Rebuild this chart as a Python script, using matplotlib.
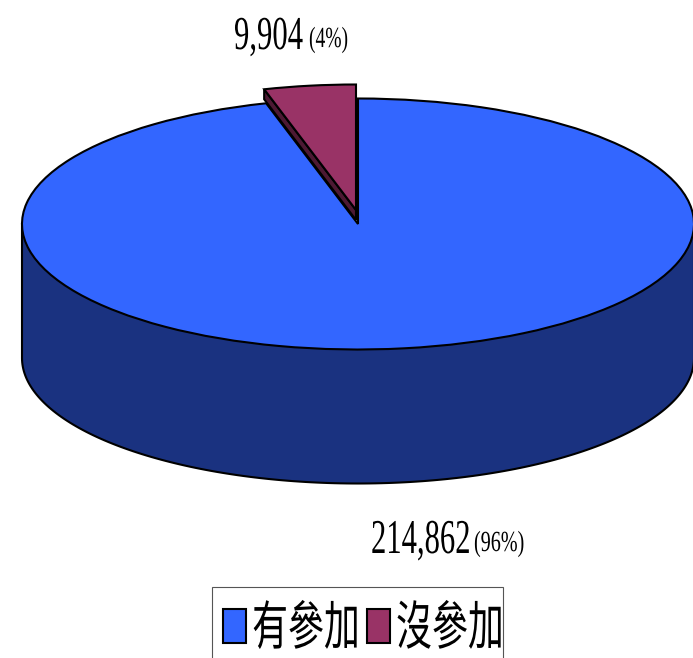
import numpy as np
import matplotlib
matplotlib.use("Agg")
import matplotlib.pyplot as plt
from matplotlib.patches import Wedge, Polygon, Patch, Rectangle
from matplotlib.patheffects import AbstractPathEffect
from matplotlib.transforms import Affine2D

# Survey counts
categories = ["有參加", "沒參加"]
counts = [214862, 9904]
count_labels = ["214,862", "9,904"]
share_labels = ["(96%)", "(4%)"]

BLUE, BLUE_DARK = "#3366FF", "#1A3280"
PLUM, PLUM_DARK = "#993366", "#4D1933"
W, H = 693, 658
CX, CY, RX, RY = 358.0, 224.0, 336.0, 125.5   # top ellipse, in pixels
DEPTH = 134 / RY                               # body height in unit-circle terms
LW = 1.5


class Condense(AbstractPathEffect):
    """Squeezes glyphs horizontally about the text origin."""
    def __init__(self, sx):
        super().__init__()
        self.sx = sx

    def draw_path(self, renderer, gc, tpath, affine, rgbFace=None):
        renderer.draw_path(gc, tpath, Affine2D().scale(self.sx, 1) + affine, rgbFace)


def label(x, y, s, size, sx):
    txt = fig.text(x / W, 1 - y / H, s, fontsize=size, family="Liberation Serif",
                   ha="left", va="baseline", color="black")
    txt.set_path_effects([Condense(sx)])


fig = plt.figure(figsize=(W / 100, H / 100), dpi=100, facecolor="white")
ax = fig.add_axes([0, 0, 1, 1])
# Unit-circle coordinates stretched so the disc reads as a tilted ellipse
ax.set_xlim(-CX / RX, (W - CX) / RX)
ax.set_ylim((CY - H) / RY, CY / RY)
ax.axis("off")

sweep = 360 * counts[1] / sum(counts)
start = 90.0
split = start + sweep

# Cylinder wall below the large slice
t = np.radians(np.linspace(180, 360, 181))
wall = np.column_stack([np.cos(t), np.sin(t) - DEPTH])
wall = np.vstack([wall, [1, 0], [-1, 0]])
ax.add_patch(Polygon(wall, closed=True, fc=BLUE_DARK, ec="black", lw=LW, zorder=1))

# Top face of the large slice
ax.add_patch(Wedge((0, 0), 1, split, start + 360, fc=BLUE, ec="black", lw=LW, zorder=2))

# Lifted small slice with its thin visible wall along the left radius
dx, dy = -2 / RX, 14 / RY
thin = 10 / RY
rim = np.radians(split)
edge = np.array([[dx, dy], [dx + np.cos(rim), dy + np.sin(rim)]])
side = np.vstack([edge, edge[::-1] - [0, thin]])
ax.add_patch(Polygon(side, closed=True, fc=PLUM_DARK, ec="black", lw=LW, zorder=3))
ax.add_patch(Wedge((dx, dy), 1, start, split, fc=PLUM, ec="black", lw=LW, zorder=4))

# Value labels
label(234, 49, count_labels[1], 34, 0.65)
label(309, 47, share_labels[1], 21, 0.67)
label(371, 553, count_labels[0], 35, 0.63)
label(474, 551, share_labels[0], 21, 0.69)

# Legend box runs off the lower edge of the figure
fig.add_artist(Rectangle((212 / W, 1 - 680 / H), 291 / W, 93 / H, transform=fig.transFigure,
                         fc="white", ec="#555555", lw=0.8))
handles = [Patch(fc=BLUE, ec="black", lw=1.5), Patch(fc=PLUM, ec="black", lw=1.5)]
leg = fig.legend(handles, categories, ncols=2, loc="upper left",
                 bbox_to_anchor=(212 / W, 1 - 591 / H), bbox_transform=fig.transFigure,
                 prop={"family": ["Noto Sans CJK TC", "DejaVu Sans"], "size": 38},
                 frameon=False, borderpad=0.2, borderaxespad=0,
                 handlelength=0.44, handleheight=0.6,
                 handletextpad=0.12, columnspacing=-0.83)
for t_ in leg.get_texts():
    t_.set_path_effects([Condense(0.68)])

fig.savefig("out.png", dpi=100, facecolor="white")
